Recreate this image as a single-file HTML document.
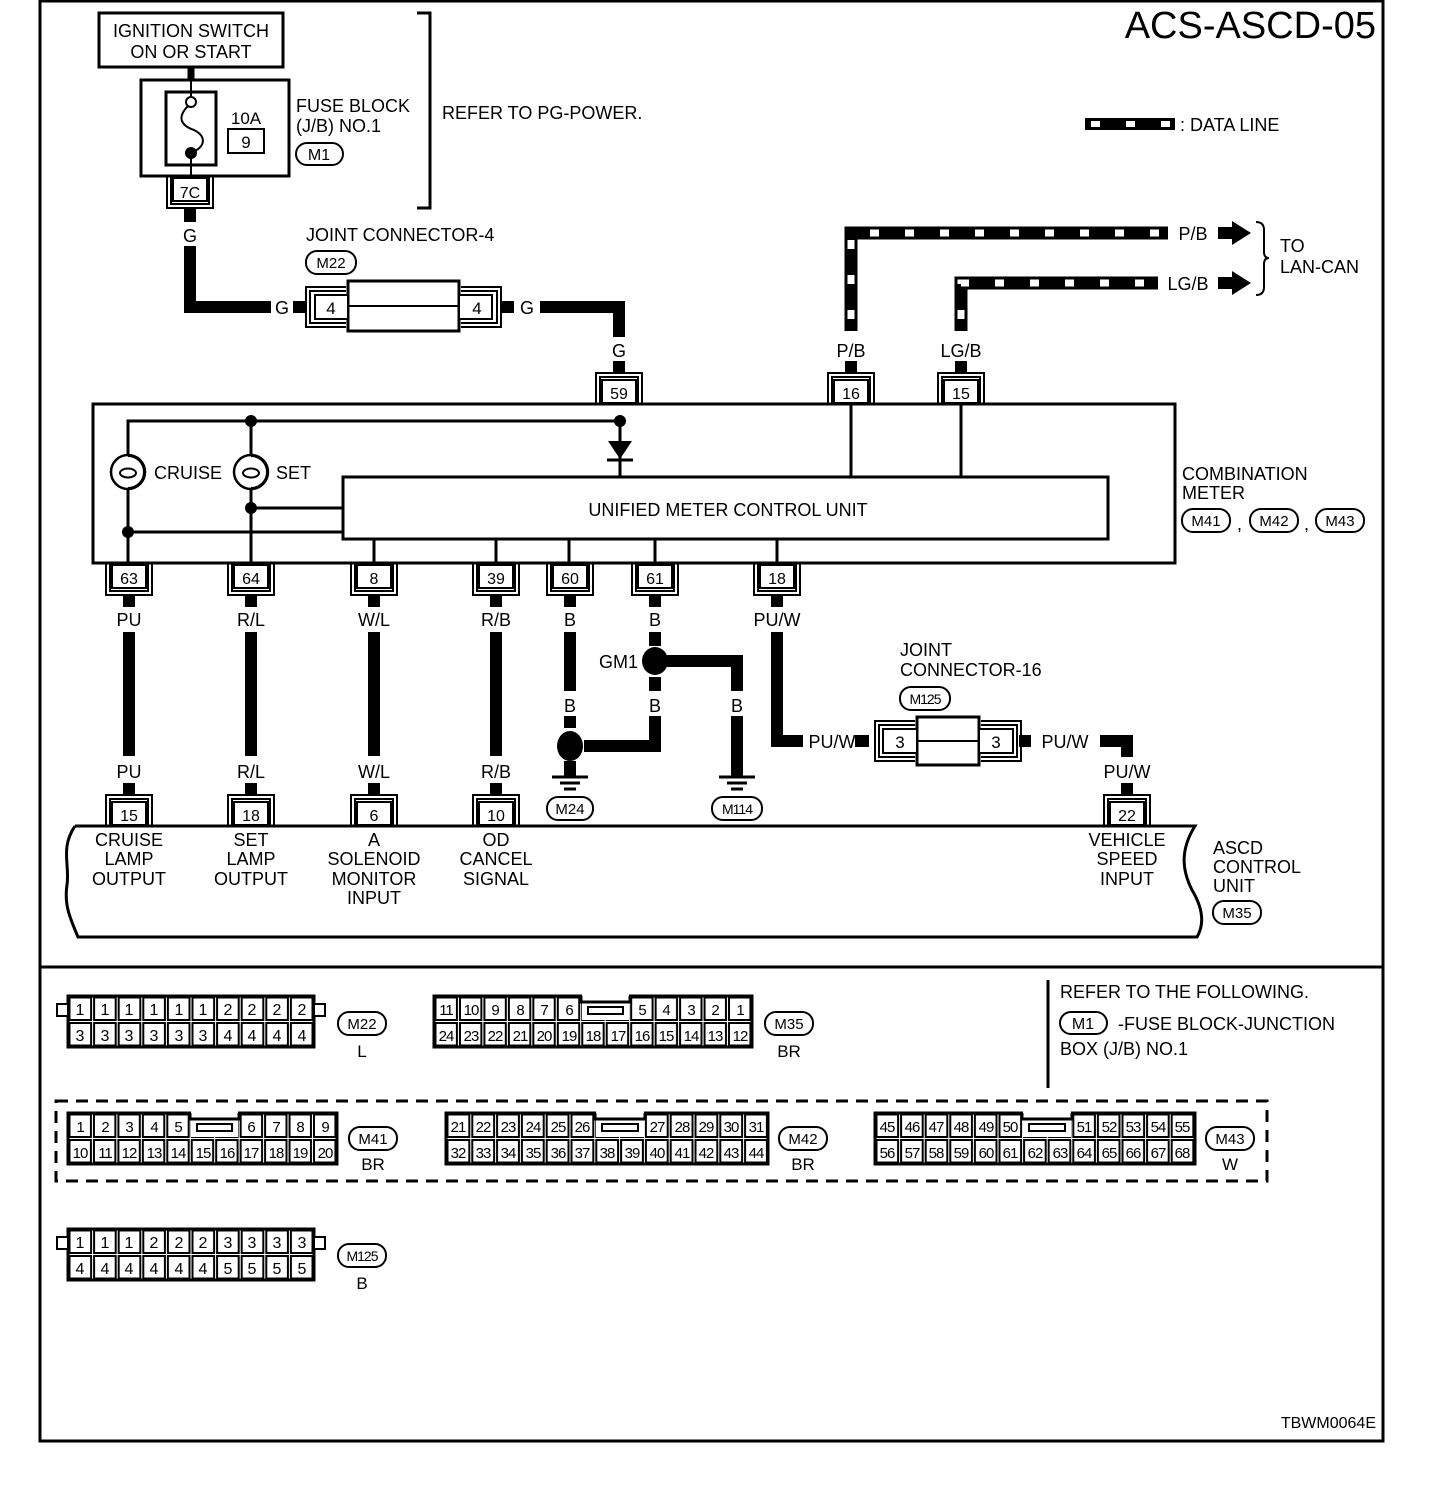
<!DOCTYPE html>
<html><head><meta charset="utf-8"><style>
html,body{margin:0;padding:0;background:#fff}
svg{display:block}
text{font-family:"Liberation Sans",sans-serif;fill:#000}
</style></head><body>
<svg width="1440" height="1488" viewBox="0 0 1440 1488" xmlns="http://www.w3.org/2000/svg">
<defs>
<g id="cdn"><rect x="-17" y="1" width="34" height="23" fill="#fff" stroke="#000" stroke-width="2"/><path d="M-23,0V31H23V0M-19,0V27H19V0" fill="none" stroke="#000" stroke-width="2"/></g>
<g id="cup"><rect x="-17" y="-24" width="34" height="23" fill="#fff" stroke="#000" stroke-width="2"/><path d="M-23,0V-31H23V0M-19,0V-27H19V0" fill="none" stroke="#000" stroke-width="2"/></g>
<pattern id="p22" patternUnits="userSpaceOnUse" x="68" y="996" width="24.6" height="25.5"><rect x="1.5" y="1.5" width="21.6" height="22.5" fill="#fff" stroke="#000" stroke-width="2"/></pattern>
<pattern id="p125" patternUnits="userSpaceOnUse" x="68" y="1229" width="24.6" height="25.5"><rect x="1.5" y="1.5" width="21.6" height="22.5" fill="#fff" stroke="#000" stroke-width="2"/></pattern>
<pattern id="p35" patternUnits="userSpaceOnUse" x="434" y="996" width="24.46" height="25.5"><rect x="1.5" y="1.5" width="21.4" height="22.5" fill="#fff" stroke="#000" stroke-width="2"/></pattern>
<pattern id="p41" patternUnits="userSpaceOnUse" x="68" y="1113" width="24.45" height="25.5"><rect x="1.5" y="1.5" width="21.4" height="22.5" fill="#fff" stroke="#000" stroke-width="2"/></pattern>
<pattern id="p42" patternUnits="userSpaceOnUse" x="446" y="1113" width="24.8" height="25.5"><rect x="1.5" y="1.5" width="21.8" height="22.5" fill="#fff" stroke="#000" stroke-width="2"/></pattern>
<pattern id="p43" patternUnits="userSpaceOnUse" x="875" y="1113" width="24.6" height="25.5"><rect x="1.5" y="1.5" width="21.6" height="22.5" fill="#fff" stroke="#000" stroke-width="2"/></pattern>
</defs>

<rect x="40" y="1" width="1343" height="1440" fill="none" stroke="#000" stroke-width="3"/>
<line x1="40" y1="967" x2="1383" y2="967" stroke="#000" stroke-width="3"/>
<text x="1376" y="38" font-size="38" text-anchor="end">ACS-ASCD-05</text>
<text x="1376" y="1428" font-size="16" text-anchor="end">TBWM0064E</text>

<rect x="99" y="13" width="184" height="54" fill="none" stroke="#000" stroke-width="3"/>
<text x="191" y="37" font-size="18" text-anchor="middle">IGNITION SWITCH</text>
<text x="191" y="58" font-size="18" text-anchor="middle">ON OR START</text>
<line x1="191" y1="67" x2="191" y2="80" stroke="#000" stroke-width="7"/>
<rect x="141" y="80" width="148" height="96" fill="none" stroke="#000" stroke-width="3"/>
<rect x="166" y="92" width="50" height="73" fill="none" stroke="#000" stroke-width="3"/>
<line x1="191" y1="80" x2="191" y2="97" stroke="#000" stroke-width="2"/>
<line x1="191" y1="153" x2="191" y2="178" stroke="#000" stroke-width="2"/>
<circle cx="191" cy="102" r="5" fill="#fff" stroke="#000" stroke-width="2"/>
<path d="M188,106 C176,118 182,126 194,130 C206,136 206,146 193,152" fill="none" stroke="#000" stroke-width="2"/>
<circle cx="191" cy="153" r="6"/>
<text x="246" y="124" font-size="17" text-anchor="middle">10A</text>
<rect x="228" y="129" width="36" height="24" fill="none" stroke="#000" stroke-width="2"/>
<text x="246" y="148" font-size="17" text-anchor="middle">9</text>
<text x="296" y="112" font-size="18">FUSE BLOCK</text>
<text x="296" y="132" font-size="18">(J/B) NO.1</text>
<rect x="296" y="143" width="47" height="22" rx="11" fill="none" stroke="#000" stroke-width="2"/>
<text x="319" y="160" font-size="16" text-anchor="middle">M1</text>
<path d="M417,13H430V208H417" fill="none" stroke="#000" stroke-width="3"/>
<text x="442" y="119" font-size="18">REFER TO PG-POWER.</text>
<use href="#cdn" x="190" y="177"/>
<text x="190" y="198" font-size="16" text-anchor="middle">7C</text>

<line x1="190" y1="209" x2="190" y2="222" stroke="#000" stroke-width="12"/>
<text x="190" y="242" font-size="18" text-anchor="middle">G</text>
<path d="M190,246V307H271" fill="none" stroke="#000" stroke-width="12"/>
<text x="282" y="314" font-size="18" text-anchor="middle">G</text>
<line x1="293" y1="307" x2="307" y2="307" stroke="#000" stroke-width="12"/>
<text x="306" y="241" font-size="18">JOINT CONNECTOR-4</text>
<rect x="306" y="251" width="50" height="23" rx="11" fill="none" stroke="#000" stroke-width="2"/>
<text x="331" y="268" font-size="15" text-anchor="middle">M22</text>
<rect x="348" y="281" width="111" height="50" fill="#fff" stroke="#000" stroke-width="3"/>
<line x1="348" y1="306" x2="459" y2="306" stroke="#000" stroke-width="2"/>
<rect x="315" y="295" width="33" height="24" fill="#fff" stroke="#000" stroke-width="2"/>
<path d="M346,287H306V327H346M346,291H310V323H346" fill="none" stroke="#000" stroke-width="2"/>
<text x="331" y="314" font-size="17" text-anchor="middle">4</text>
<rect x="459" y="295" width="33" height="24" fill="#fff" stroke="#000" stroke-width="2"/>
<path d="M461,287H501V327H461M461,291H497V323H461" fill="none" stroke="#000" stroke-width="2"/>
<text x="477" y="314" font-size="17" text-anchor="middle">4</text>
<line x1="502" y1="307" x2="514" y2="307" stroke="#000" stroke-width="12"/>
<text x="527" y="314" font-size="18" text-anchor="middle">G</text>
<path d="M540,307H619V337" fill="none" stroke="#000" stroke-width="12"/>
<text x="619" y="357" font-size="18" text-anchor="middle">G</text>
<line x1="619" y1="361" x2="619" y2="374" stroke="#000" stroke-width="12"/>
<use href="#cup" x="619" y="404"/>
<text x="619" y="399" font-size="16" text-anchor="middle">59</text>

<path d="M851,331V233H1168" fill="none" stroke="#000" stroke-width="13"/>
<path d="M851,331V233H1168" fill="none" stroke="#fff" stroke-width="7" stroke-dasharray="9 26" stroke-dashoffset="-12"/>
<path d="M961,331V283H1158" fill="none" stroke="#000" stroke-width="13"/>
<path d="M961,331V283H1158" fill="none" stroke="#fff" stroke-width="7" stroke-dasharray="9 26" stroke-dashoffset="-12"/>
<text x="1193" y="240" font-size="18" text-anchor="middle">P/B</text>
<text x="1188" y="290" font-size="18" text-anchor="middle">LG/B</text>
<path d="M1218,227H1232V221L1251,233L1232,245V239H1218Z"/>
<path d="M1218,277H1232V271L1251,283L1232,295V289H1218Z"/>
<path d="M1256,222Q1264,222 1264,230V252Q1264,258 1269,258Q1264,258 1264,264V287Q1264,295 1256,295" fill="none" stroke="#000" stroke-width="2"/>
<text x="1280" y="252" font-size="18">TO</text>
<text x="1280" y="273" font-size="18">LAN-CAN</text>
<text x="851" y="357" font-size="18" text-anchor="middle">P/B</text>
<text x="961" y="357" font-size="18" text-anchor="middle">LG/B</text>
<line x1="851" y1="361" x2="851" y2="374" stroke="#000" stroke-width="12"/>
<line x1="961" y1="361" x2="961" y2="374" stroke="#000" stroke-width="12"/>
<use href="#cup" x="851" y="404"/>
<text x="851" y="399" font-size="16" text-anchor="middle">16</text>
<use href="#cup" x="961" y="404"/>
<text x="961" y="399" font-size="16" text-anchor="middle">15</text>
<line x1="1085" y1="124" x2="1175" y2="124" stroke="#000" stroke-width="12"/>
<line x1="1085" y1="124" x2="1175" y2="124" stroke="#fff" stroke-width="6" stroke-dasharray="9 26" stroke-dashoffset="-6"/>
<text x="1180" y="131" font-size="18">: DATA LINE</text>

<rect x="93" y="404" width="1082" height="159" fill="none" stroke="#000" stroke-width="3"/>
<rect x="343" y="477" width="765" height="62" fill="none" stroke="#000" stroke-width="3"/>
<text x="728" y="516" font-size="18" text-anchor="middle">UNIFIED METER CONTROL UNIT</text>
<path d="M128,563V421H620V477M251,421V563M251,508H343M128,532H343M851,404V477M961,404V477M374,539V563M496,539V563M569,539V563M655,539V563M777,539V563" fill="none" stroke="#000" stroke-width="3"/>
<circle cx="251" cy="421" r="6"/><circle cx="620" cy="421" r="6"/>
<circle cx="251" cy="508" r="6"/><circle cx="128" cy="532" r="6"/>
<path d="M608,441H632L620,459Z"/>
<line x1="607" y1="460" x2="633" y2="460" stroke="#000" stroke-width="3"/>
<circle cx="128" cy="472" r="17" fill="#fff" stroke="#000" stroke-width="2.5"/>
<path d="M128,456A16,16 0 0 1 128,488" fill="none" stroke="#000" stroke-width="2"/>
<ellipse cx="128" cy="473" rx="8" ry="4.5" fill="none" stroke="#000" stroke-width="2"/>
<circle cx="251" cy="472" r="17" fill="#fff" stroke="#000" stroke-width="2.5"/>
<path d="M251,456A16,16 0 0 1 251,488" fill="none" stroke="#000" stroke-width="2"/>
<ellipse cx="251" cy="473" rx="8" ry="4.5" fill="none" stroke="#000" stroke-width="2"/>
<text x="154" y="479" font-size="18">CRUISE</text>
<text x="276" y="479" font-size="18">SET</text>
<text x="1182" y="480" font-size="18">COMBINATION</text>
<text x="1182" y="499" font-size="18">METER</text>
<rect x="1182" y="509" width="48" height="23" rx="11" fill="none" stroke="#000" stroke-width="2"/>
<text x="1206" y="526" font-size="15" text-anchor="middle">M41</text>
<text x="1237" y="530" font-size="18">,</text>
<rect x="1250" y="509" width="48" height="23" rx="11" fill="none" stroke="#000" stroke-width="2"/>
<text x="1274" y="526" font-size="15" text-anchor="middle">M42</text>
<text x="1304" y="530" font-size="18">,</text>
<rect x="1316" y="509" width="48" height="23" rx="11" fill="none" stroke="#000" stroke-width="2"/>
<text x="1340" y="526" font-size="15" text-anchor="middle">M43</text>

<use href="#cdn" x="129" y="564"/><text x="129" y="584" font-size="16" text-anchor="middle">63</text>
<use href="#cdn" x="251" y="564"/><text x="251" y="584" font-size="16" text-anchor="middle">64</text>
<use href="#cdn" x="374" y="564"/><text x="374" y="584" font-size="16" text-anchor="middle">8</text>
<use href="#cdn" x="496" y="564"/><text x="496" y="584" font-size="16" text-anchor="middle">39</text>
<use href="#cdn" x="570" y="564"/><text x="570" y="584" font-size="16" text-anchor="middle">60</text>
<use href="#cdn" x="655" y="564"/><text x="655" y="584" font-size="16" text-anchor="middle">61</text>
<use href="#cdn" x="777" y="564"/><text x="777" y="584" font-size="16" text-anchor="middle">18</text>

<g stroke="#000" stroke-width="12" fill="none">
<path d="M129,595V607M251,595V607M374,595V607M496,595V607M570,595V607M655,595V607M777,595V607"/>
<path d="M129,632V756M251,632V756M374,632V756M496,632V756"/>
<path d="M129,783V796M251,783V796M374,783V796M496,783V796M1127,783V796"/>
<path d="M570,632V691M570,716V728M570,761V777"/>
<path d="M655,632V646M655,677V691M655,716V746H584"/>
<path d="M667,661H737V691M737,716V777"/>
<path d="M777,632V741H803M855,741H869"/>
<path d="M1019,741H1031M1100,741H1127V757"/>
</g>
<g font-size="18" text-anchor="middle">
<text x="129" y="626">PU</text><text x="251" y="626">R/L</text><text x="374" y="626">W/L</text><text x="496" y="626">R/B</text>
<text x="570" y="626">B</text><text x="655" y="626">B</text><text x="777" y="626">PU/W</text>
<text x="129" y="778">PU</text><text x="251" y="778">R/L</text><text x="374" y="778">W/L</text><text x="496" y="778">R/B</text>
<text x="570" y="712">B</text><text x="655" y="712">B</text><text x="737" y="712">B</text>
<text x="832" y="748">PU/W</text><text x="1065" y="748">PU/W</text><text x="1127" y="778">PU/W</text>
</g>
<text x="638" y="668" font-size="18" text-anchor="end">GM1</text>
<ellipse cx="655" cy="661" rx="13" ry="14"/>
<ellipse cx="570" cy="746" rx="13" ry="15"/>
<path d="M552,777H588M560,783H580M564,789H576" stroke="#000" stroke-width="3"/>
<path d="M719,777H755M727,783H747M731,789H743" stroke="#000" stroke-width="3"/>
<rect x="547" y="797" width="46" height="23" rx="11" fill="none" stroke="#000" stroke-width="2"/>
<text x="570" y="814" font-size="15" text-anchor="middle">M24</text>
<rect x="712" y="797" width="50" height="23" rx="11" fill="none" stroke="#000" stroke-width="2"/>
<text x="737" y="814" font-size="14" text-anchor="middle" letter-spacing="-1">M114</text>

<text x="900" y="656" font-size="18">JOINT</text>
<text x="900" y="676" font-size="18">CONNECTOR-16</text>
<rect x="900" y="687" width="50" height="23" rx="11" fill="none" stroke="#000" stroke-width="2"/>
<text x="925" y="704" font-size="14" text-anchor="middle" letter-spacing="-1">M125</text>
<rect x="917" y="717" width="62" height="48" fill="#fff" stroke="#000" stroke-width="3"/>
<line x1="917" y1="741" x2="979" y2="741" stroke="#000" stroke-width="2"/>
<rect x="883" y="729" width="34" height="24" fill="#fff" stroke="#000" stroke-width="2"/>
<path d="M915,721H875V761H915M915,725H879V757H915" fill="none" stroke="#000" stroke-width="2"/>
<text x="900" y="748" font-size="17" text-anchor="middle">3</text>
<rect x="979" y="729" width="34" height="24" fill="#fff" stroke="#000" stroke-width="2"/>
<path d="M981,721H1021V761H981M981,725H1017V757H981" fill="none" stroke="#000" stroke-width="2"/>
<text x="996" y="748" font-size="17" text-anchor="middle">3</text>

<use href="#cup" x="129" y="826"/><text x="129" y="821" font-size="16" text-anchor="middle">15</text>
<use href="#cup" x="251" y="826"/><text x="251" y="821" font-size="16" text-anchor="middle">18</text>
<use href="#cup" x="374" y="826"/><text x="374" y="821" font-size="16" text-anchor="middle">6</text>
<use href="#cup" x="496" y="826"/><text x="496" y="821" font-size="16" text-anchor="middle">10</text>
<use href="#cup" x="1127" y="826"/><text x="1127" y="821" font-size="16" text-anchor="middle">22</text>
<path d="M75,826H1195C1180,850 1182,870 1192,890C1204,910 1204,925 1197,937H78C70,918 64,905 67,885C70,865 60,848 75,826" fill="none" stroke="#000" stroke-width="3"/>
<g font-size="18" text-anchor="middle">
<text x="129" y="846">CRUISE</text><text x="129" y="865">LAMP</text><text x="129" y="885">OUTPUT</text>
<text x="251" y="846">SET</text><text x="251" y="865">LAMP</text><text x="251" y="885">OUTPUT</text>
<text x="374" y="846">A</text><text x="374" y="865">SOLENOID</text><text x="374" y="885">MONITOR</text><text x="374" y="904">INPUT</text>
<text x="496" y="846">OD</text><text x="496" y="865">CANCEL</text><text x="496" y="885">SIGNAL</text>
<text x="1127" y="846">VEHICLE</text><text x="1127" y="865">SPEED</text><text x="1127" y="885">INPUT</text>
</g>
<text x="1213" y="854" font-size="18">ASCD</text>
<text x="1213" y="873" font-size="18">CONTROL</text>
<text x="1213" y="892" font-size="18">UNIT</text>
<rect x="1213" y="901" width="48" height="23" rx="11" fill="none" stroke="#000" stroke-width="2"/>
<text x="1237" y="918" font-size="15" text-anchor="middle">M35</text>

<g font-size="16" text-anchor="middle">
<rect x="68" y="996" width="246" height="51" fill="url(#p22)" stroke="#000" stroke-width="3"/>
<rect x="57" y="1004" width="11" height="12" fill="#fff" stroke="#000" stroke-width="2"/>
<rect x="314" y="1004" width="11" height="12" fill="#fff" stroke="#000" stroke-width="2"/>
<text x="80" y="1015">1</text><text x="105" y="1015">1</text><text x="129" y="1015">1</text><text x="154" y="1015">1</text><text x="179" y="1015">1</text><text x="203" y="1015">1</text><text x="228" y="1015">2</text><text x="252" y="1015">2</text><text x="277" y="1015">2</text><text x="302" y="1015">2</text>
<text x="80" y="1041">3</text><text x="105" y="1041">3</text><text x="129" y="1041">3</text><text x="154" y="1041">3</text><text x="179" y="1041">3</text><text x="203" y="1041">3</text><text x="228" y="1041">4</text><text x="252" y="1041">4</text><text x="277" y="1041">4</text><text x="302" y="1041">4</text>
<rect x="68" y="1229" width="246" height="51" fill="url(#p125)" stroke="#000" stroke-width="3"/>
<rect x="57" y="1237" width="11" height="12" fill="#fff" stroke="#000" stroke-width="2"/>
<rect x="314" y="1237" width="11" height="12" fill="#fff" stroke="#000" stroke-width="2"/>
<text x="80" y="1248">1</text><text x="105" y="1248">1</text><text x="129" y="1248">1</text><text x="154" y="1248">2</text><text x="179" y="1248">2</text><text x="203" y="1248">2</text><text x="228" y="1248">3</text><text x="252" y="1248">3</text><text x="277" y="1248">3</text><text x="302" y="1248">3</text>
<text x="80" y="1274">4</text><text x="105" y="1274">4</text><text x="129" y="1274">4</text><text x="154" y="1274">4</text><text x="179" y="1274">4</text><text x="203" y="1274">4</text><text x="228" y="1274">5</text><text x="252" y="1274">5</text><text x="277" y="1274">5</text><text x="302" y="1274">5</text>
</g>
<g font-size="15" text-anchor="middle" letter-spacing="-1">
<rect x="434" y="996" width="318" height="51" fill="url(#p35)" stroke="#000" stroke-width="3"/>
<rect x="582" y="994" width="47" height="26" fill="#fff"/>
<path d="M581,996V1002H630V996" fill="none" stroke="#000" stroke-width="3"/>
<rect x="588" y="1007" width="35" height="7" fill="none" stroke="#000" stroke-width="2"/>
<text x="446" y="1015">11</text><text x="471" y="1015">10</text><text x="495" y="1015">9</text><text x="520" y="1015">8</text><text x="544" y="1015">7</text><text x="569" y="1015">6</text><text x="642" y="1015">5</text><text x="666" y="1015">4</text><text x="691" y="1015">3</text><text x="715" y="1015">2</text><text x="740" y="1015">1</text>
<text x="446" y="1041">24</text><text x="471" y="1041">23</text><text x="495" y="1041">22</text><text x="520" y="1041">21</text><text x="544" y="1041">20</text><text x="569" y="1041">19</text><text x="593" y="1041">18</text><text x="618" y="1041">17</text><text x="642" y="1041">16</text><text x="666" y="1041">15</text><text x="691" y="1041">14</text><text x="715" y="1041">13</text><text x="740" y="1041">12</text>
<rect x="68" y="1113" width="269" height="51" fill="url(#p41)" stroke="#000" stroke-width="3"/>
<rect x="191" y="1111" width="47" height="26" fill="#fff"/>
<path d="M190,1113V1119H239V1113" fill="none" stroke="#000" stroke-width="3"/>
<rect x="197" y="1124" width="35" height="7" fill="none" stroke="#000" stroke-width="2"/>
<text x="80" y="1132">1</text><text x="105" y="1132">2</text><text x="129" y="1132">3</text><text x="154" y="1132">4</text><text x="178" y="1132">5</text><text x="251" y="1132">6</text><text x="276" y="1132">7</text><text x="300" y="1132">8</text><text x="325" y="1132">9</text>
<text x="80" y="1158">10</text><text x="105" y="1158">11</text><text x="129" y="1158">12</text><text x="154" y="1158">13</text><text x="178" y="1158">14</text><text x="203" y="1158">15</text><text x="227" y="1158">16</text><text x="251" y="1158">17</text><text x="276" y="1158">18</text><text x="300" y="1158">19</text><text x="325" y="1158">20</text>
<rect x="446" y="1113" width="322" height="51" fill="url(#p42)" stroke="#000" stroke-width="3"/>
<rect x="596" y="1111" width="48" height="26" fill="#fff"/>
<path d="M595,1113V1119H645V1113" fill="none" stroke="#000" stroke-width="3"/>
<rect x="602" y="1124" width="36" height="7" fill="none" stroke="#000" stroke-width="2"/>
<text x="458" y="1132">21</text><text x="483" y="1132">22</text><text x="508" y="1132">23</text><text x="533" y="1132">24</text><text x="558" y="1132">25</text><text x="582" y="1132">26</text><text x="657" y="1132">27</text><text x="682" y="1132">28</text><text x="706" y="1132">29</text><text x="731" y="1132">30</text><text x="756" y="1132">31</text>
<text x="458" y="1158">32</text><text x="483" y="1158">33</text><text x="508" y="1158">34</text><text x="533" y="1158">35</text><text x="558" y="1158">36</text><text x="582" y="1158">37</text><text x="607" y="1158">38</text><text x="632" y="1158">39</text><text x="657" y="1158">40</text><text x="682" y="1158">41</text><text x="706" y="1158">42</text><text x="731" y="1158">43</text><text x="756" y="1158">44</text>
<rect x="875" y="1113" width="320" height="51" fill="url(#p43)" stroke="#000" stroke-width="3"/>
<rect x="1023" y="1111" width="48" height="26" fill="#fff"/>
<path d="M1022,1113V1119H1072V1113" fill="none" stroke="#000" stroke-width="3"/>
<rect x="1029" y="1124" width="36" height="7" fill="none" stroke="#000" stroke-width="2"/>
<text x="887" y="1132">45</text><text x="912" y="1132">46</text><text x="936" y="1132">47</text><text x="961" y="1132">48</text><text x="986" y="1132">49</text><text x="1010" y="1132">50</text><text x="1084" y="1132">51</text><text x="1109" y="1132">52</text><text x="1133" y="1132">53</text><text x="1158" y="1132">54</text><text x="1182" y="1132">55</text>
<text x="887" y="1158">56</text><text x="912" y="1158">57</text><text x="936" y="1158">58</text><text x="961" y="1158">59</text><text x="986" y="1158">60</text><text x="1010" y="1158">61</text><text x="1035" y="1158">62</text><text x="1060" y="1158">63</text><text x="1084" y="1158">64</text><text x="1109" y="1158">65</text><text x="1133" y="1158">66</text><text x="1158" y="1158">67</text><text x="1182" y="1158">68</text>
</g>
<rect x="56" y="1101" width="1211" height="80" fill="none" stroke="#000" stroke-width="3" stroke-dasharray="12 8"/>

<g font-size="15" text-anchor="middle">
<rect x="338" y="1012" width="48" height="23" rx="11" fill="none" stroke="#000" stroke-width="2"/><text x="362" y="1029">M22</text>
<text x="362" y="1057" font-size="17">L</text>
<rect x="765" y="1012" width="48" height="23" rx="11" fill="none" stroke="#000" stroke-width="2"/><text x="789" y="1029">M35</text>
<text x="789" y="1057" font-size="17">BR</text>
<rect x="349" y="1127" width="48" height="23" rx="11" fill="none" stroke="#000" stroke-width="2"/><text x="373" y="1144">M41</text>
<text x="373" y="1170" font-size="17">BR</text>
<rect x="779" y="1127" width="48" height="23" rx="11" fill="none" stroke="#000" stroke-width="2"/><text x="803" y="1144">M42</text>
<text x="803" y="1170" font-size="17">BR</text>
<rect x="1206" y="1127" width="48" height="23" rx="11" fill="none" stroke="#000" stroke-width="2"/><text x="1230" y="1144">M43</text>
<text x="1230" y="1170" font-size="17">W</text>
<rect x="338" y="1244" width="48" height="23" rx="11" fill="none" stroke="#000" stroke-width="2"/><text x="362" y="1261" font-size="14" letter-spacing="-1">M125</text>
<text x="362" y="1289" font-size="17">B</text>
</g>

<line x1="1048" y1="980" x2="1048" y2="1088" stroke="#000" stroke-width="3"/>
<text x="1060" y="998" font-size="18">REFER TO THE FOLLOWING.</text>
<rect x="1060" y="1012" width="47" height="22" rx="11" fill="none" stroke="#000" stroke-width="2"/>
<text x="1083" y="1029" font-size="16" text-anchor="middle">M1</text>
<text x="1118" y="1030" font-size="18">-FUSE BLOCK-JUNCTION</text>
<text x="1060" y="1055" font-size="18">BOX (J/B) NO.1</text>
</svg>
</body></html>
